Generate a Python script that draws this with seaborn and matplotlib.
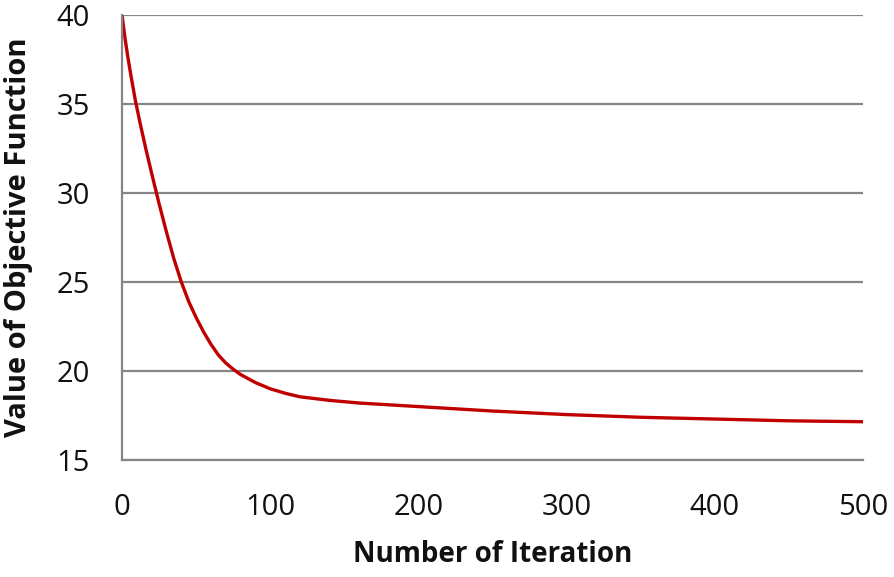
import numpy as np
import pandas as pd
import matplotlib
matplotlib.use("Agg")
import matplotlib.pyplot as plt
import seaborn as sns

# values
iterations = [0, 2, 4, 6, 9, 12, 16, 20, 25, 30, 35, 40, 45, 50, 55, 60, 65, 70, 75, 80, 90, 100,
              110, 120, 140, 160, 200, 250, 300, 350, 400, 450, 500]
objective = [40.0, 38.7, 37.6, 36.6, 35.2, 34.0, 32.5, 31.1, 29.4, 27.8, 26.3, 25.0, 23.9,
             23.0, 22.2, 21.5, 20.9, 20.45, 20.1, 19.8, 19.35, 19.0, 18.75, 18.55, 18.35, 18.2,
             18.0, 17.75, 17.55, 17.4, 17.3, 17.2, 17.15]
x_ticks = [0, 100, 200, 300, 400, 500]
y_ticks = [15, 20, 25, 30, 35, 40]

df = pd.DataFrame({"Number of Iteration": iterations, "Value of Objective Function": objective})

sns.set_style("white")
plt.rcParams["font.family"] = ["Open Sans", "DejaVu Sans"]

fig = plt.figure(figsize=(8.94, 5.77), dpi=100)
ax = fig.add_axes([0.1365, 0.2028, 0.8288, 0.7712])

sns.lineplot(data=df, x="Number of Iteration", y="Value of Objective Function",
             color="#C00000", linewidth=2.4, ax=ax)

ax.set_xlim(0, 500)
ax.set_ylim(15, 40)
ax.set_xticks(x_ticks)
ax.set_yticks(y_ticks)
ax.yaxis.grid(True, color="#868686", linewidth=1.6)
ax.xaxis.grid(False)
ax.set_axisbelow(True)
for side in ["top", "right"]:
    ax.spines[side].set_visible(False)
for side in ["left", "bottom"]:
    ax.spines[side].set_color("#868686")
    ax.spines[side].set_linewidth(1.6)
ax.tick_params(axis="both", length=0, labelsize=21, colors="#111111")
ax.tick_params(axis="x", pad=24)
ax.tick_params(axis="y", pad=23)

ax.set_xlabel("Number of Iteration", fontsize=20, fontweight="bold", color="#111111")
ax.set_ylabel("Value of Objective Function", fontsize=21, fontweight="bold", color="#111111")
ax.xaxis.label.set_va("center")
ax.yaxis.label.set_va("center")
ax.xaxis.set_label_coords(0.5, -0.2135)
ax.yaxis.set_label_coords(-0.140, 0.5)

fig.savefig("out.png", dpi=100)
